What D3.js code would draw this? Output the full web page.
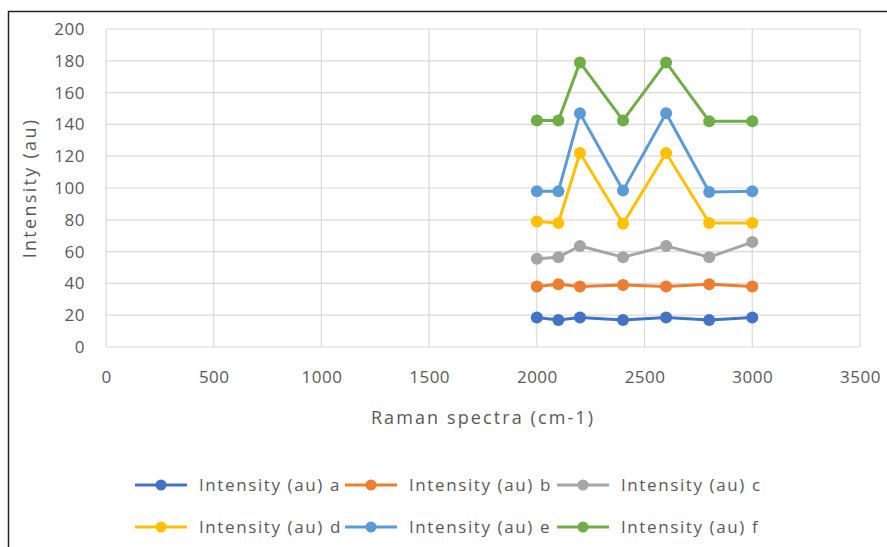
<!DOCTYPE html>
<html><head><meta charset="utf-8">
<script src="https://cdn.jsdelivr.net/npm/d3@7"></script>
<style>body{margin:0;background:#fff;} svg{display:block;font-family:"Open Sans",sans-serif;}</style>
</head><body><svg id="c" width="887" height="547"></svg>
<script>
const xValues = [2000, 2100, 2200, 2400, 2600, 2800, 3000];
const seriesNames = ["Intensity (au) a","Intensity (au) b","Intensity (au) c","Intensity (au) d","Intensity (au) e","Intensity (au) f"];
const seriesA = [18.5, 17, 18.5, 17, 18.5, 17, 18.5];
const seriesB = [38, 39.5, 38, 39, 38, 39.5, 38];
const seriesC = [55.5, 56.5, 63.5, 56.5, 63.5, 56.5, 66];
const seriesD = [79, 78, 122, 77.5, 122, 78, 78];
const seriesE = [98, 98, 147, 98.5, 147, 97.5, 98];
const seriesF = [142.5, 142.5, 179, 142.5, 179, 142, 142];
const colors = ["#4472C4","#ED7D31","#A5A5A5","#FFC000","#5B9BD5","#70AD47"];
const xTicks = [0,500,1000,1500,2000,2500,3000,3500];
const yTicks = [0,20,40,60,80,100,120,140,160,180,200];
const allSeries = [seriesA,seriesB,seriesC,seriesD,seriesE,seriesF];

const svg = d3.select("#c");
svg.append("rect").attr("x",8.5).attr("y",11.5).attr("width",900).attr("height",600)
  .attr("fill","#fff").attr("stroke","#222").attr("stroke-width",1.5);

const x = d3.scaleLinear().domain([0,3500]).range([106,860]);
const y = d3.scaleLinear().domain([0,200]).range([347,29]);
const textColor = "#595959";

// gridlines
svg.append("g").selectAll("line").data(yTicks).join("line")
  .attr("x1",x(0)).attr("x2",x(3500)).attr("y1",d=>y(d)).attr("y2",d=>y(d))
  .attr("stroke","#d9d9d9").attr("stroke-width",1.2);
svg.append("g").selectAll("line").data(xTicks).join("line")
  .attr("y1",y(0)).attr("y2",y(200)).attr("x1",d=>x(d)).attr("x2",d=>x(d))
  .attr("stroke","#d9d9d9").attr("stroke-width",1.2);

// axes labels
const yAxis = d3.axisLeft(y).tickValues(yTicks).tickFormat(d3.format("d")).tickSize(0).tickPadding(21);
const gy = svg.append("g").attr("transform",`translate(${x(0)},0)`).call(yAxis);
gy.select(".domain").remove();
gy.selectAll("text").attr("fill",textColor).style("font-size","17px").style("letter-spacing","0.5px").style("font-family","'Open Sans',sans-serif");

const xAxis = d3.axisBottom(x).tickValues(xTicks).tickFormat(d3.format("d")).tickSize(0).tickPadding(24);
const gx = svg.append("g").attr("transform",`translate(0,${y(0)})`).call(xAxis);
gx.select(".domain").remove();
gx.selectAll("text").attr("fill",textColor).style("font-size","17px").style("letter-spacing","0.5px").style("font-family","'Open Sans',sans-serif");

// axis titles
svg.append("text").attr("x",483).attr("y",424).attr("text-anchor","middle")
  .attr("fill",textColor).style("font-size","18px").style("letter-spacing","2.1px").text("Raman spectra (cm-1)");
svg.append("text").attr("transform","translate(36,188) rotate(-90)").attr("text-anchor","middle")
  .attr("fill",textColor).style("font-size","18px").style("letter-spacing","2.3px").text("Intensity (au)");

// series
const line = d3.line().x((d,i)=>x(xValues[i])).y(d=>y(d));
allSeries.forEach((s,k)=>{
  const g = svg.append("g");
  g.append("path").datum(s).attr("d",line).attr("fill","none")
    .attr("stroke",colors[k]).attr("stroke-width",3).attr("stroke-linejoin","round");
  g.selectAll("circle").data(s).join("circle")
    .attr("cx",(d,i)=>x(xValues[i])).attr("cy",d=>y(d)).attr("r",6).attr("fill",colors[k]);
});

// legend
const legX = [135, 345, 557];
const legY = [485, 527];
seriesNames.forEach((n,k)=>{
  const lx = legX[k%3], ly = legY[Math.floor(k/3)];
  const g = svg.append("g");
  g.append("line").attr("x1",lx).attr("x2",lx+52).attr("y1",ly).attr("y2",ly)
    .attr("stroke",colors[k]).attr("stroke-width",3);
  g.append("circle").attr("cx",lx+26).attr("cy",ly).attr("r",5.5).attr("fill",colors[k]);
  g.append("text").attr("x",lx+64).attr("y",ly+6).attr("fill",textColor)
    .style("font-size","17px").style("letter-spacing","1.6px").text(n);
});
</script></body></html>
